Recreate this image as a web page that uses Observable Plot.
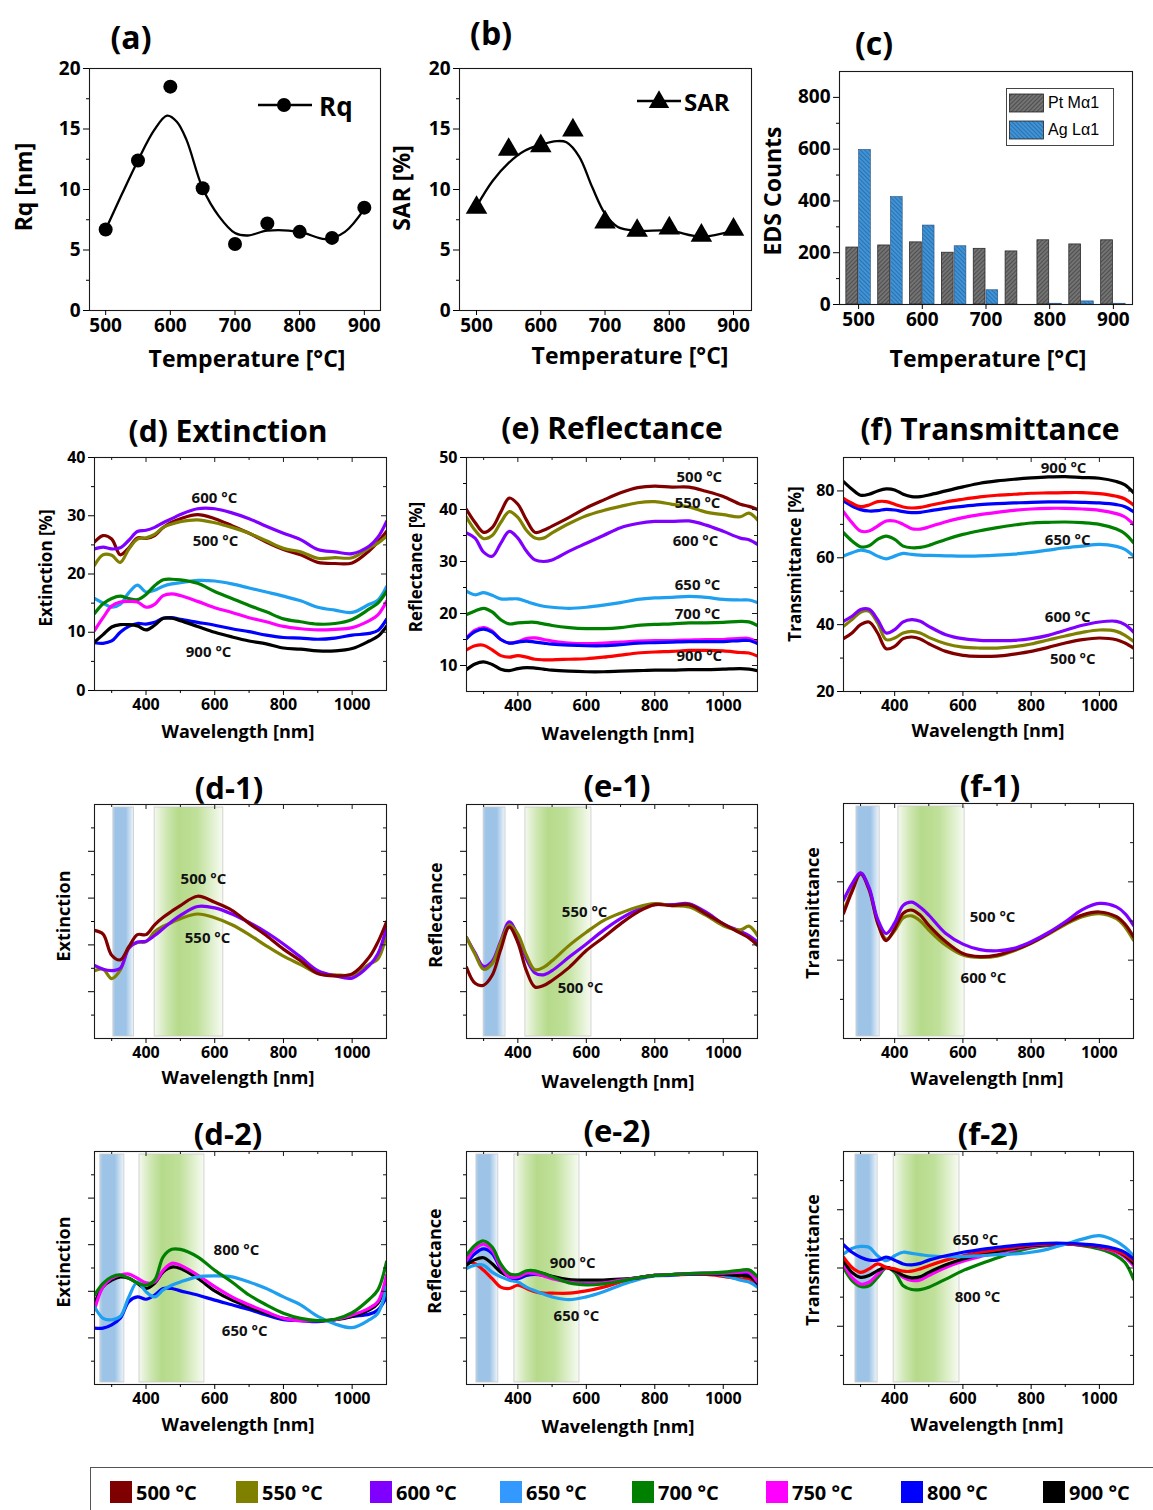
<!DOCTYPE html>
<html><head><meta charset="utf-8">
<script src="https://cdn.jsdelivr.net/npm/d3@7"></script>
<script src="https://cdn.jsdelivr.net/npm/@observablehq/plot@0.6"></script>
<style>
body{margin:0;background:#fff;}
#root{position:relative;width:1153px;height:1510px;overflow:hidden;background:#fff;font-family:"Open Sans",Lato,"DejaVu Sans",sans-serif;color:#000;}
.lbl{position:absolute;font-weight:700;white-space:nowrap;transform:translate(-50%,-50%);line-height:1;}
.rot{transform:translate(-50%,-50%) rotate(-90deg);}
</style></head><body><div id="root"></div>
<script>
// ---------------- DATA ----------------
const temps = [500, 550, 600, 650, 700, 750, 800, 850, 900];
const rqValues = [6.7, 12.4, 18.5, 10.1, 5.5, 7.2, 6.5, 6.0, 8.5];
const rqFitT = [500, 525, 550, 575, 595, 610, 625, 650, 675, 700, 720, 750, 800, 840, 870, 900];
const rqFit  = [6.7, 9.6, 12.4, 14.9, 16.1, 15.6, 14.1, 10.1, 7.8, 6.4, 6.2, 6.6, 6.5, 5.9, 6.5, 8.4];
const sarValues = [8.5, 13.3, 13.6, 14.9, 7.3, 6.6, 6.8, 6.2, 6.7];
const sarFitT = [500, 525, 550, 575, 600, 625, 640, 660, 680, 700, 720, 750, 800, 850, 900];
const sarFit  = [8.6, 10.7, 12.2, 13.2, 13.7, 14.0, 13.9, 12.7, 10.2, 8.0, 6.9, 6.6, 6.6, 6.1, 6.6];
const ptCounts = [220, 228, 240, 200, 215, 205, 248, 232, 248];
const agCounts = [597, 415, 305, 225, 55, 0, 3, 12, 3];

const WL = [250,275,300,325,350,375,400,425,450,475,500,550,600,650,700,750,800,850,900,950,1000,1050,1075,1100];

const extSeries = ["500 °C","550 °C","600 °C","650 °C","700 °C","750 °C","800 °C","900 °C"];
const extValues = [
 [25.5,26.6,26.0,23.3,24.5,26.2,26.1,26.6,28.0,28.9,29.5,30.2,29.5,28.3,27.0,25.5,24.2,23.3,22.0,21.8,21.9,24.0,25.5,27.3],
 [21.5,23.3,23.2,22.0,24.3,26.0,26.2,26.8,28.0,28.6,29.0,29.3,28.8,28.0,27.0,25.7,24.4,23.8,22.7,22.8,22.8,24.5,25.3,26.5],
 [24.3,24.6,24.3,24.5,25.8,27.3,27.5,28.0,28.8,29.5,30.2,31.2,31.2,30.5,29.5,28.2,27.0,25.9,24.2,23.8,23.5,24.8,26.3,29.0],
 [15.8,15.0,14.3,14.8,16.8,18.1,16.9,17.2,17.9,18.3,18.5,18.9,18.8,18.3,17.6,16.9,16.2,15.4,14.3,13.8,13.4,14.8,15.5,17.8],
 [13.2,14.9,15.8,16.2,15.8,15.6,16.5,18.0,19.0,19.1,19.0,18.4,17.0,15.8,14.6,13.5,12.3,11.8,11.4,11.5,12.2,14.0,15.0,17.0],
 [10.3,12.5,14.5,15.2,15.3,15.2,14.3,14.8,16.3,16.6,16.3,15.3,14.2,13.4,12.5,11.8,11.0,10.6,10.4,10.5,10.8,12.0,13.0,15.3],
 [8.2,8.1,8.5,10.0,11.0,11.5,11.4,11.7,12.4,12.5,12.2,11.7,11.2,10.6,10.1,9.5,9.1,9.0,8.8,9.0,9.5,9.8,10.3,12.2],
 [8.3,9.6,10.9,11.3,11.3,11.1,10.4,11.2,12.4,12.4,12.0,11.0,10.0,9.2,8.5,8.0,7.3,7.1,6.8,6.8,7.2,8.5,9.3,11.0]
];
const refSeries = ["500 °C","550 °C","600 °C","650 °C","700 °C","750 °C","800 °C","850 °C","900 °C"];
const refValues = [
 [40.0,37.5,35.6,36.5,39.5,42.2,41.0,38.0,35.6,36.0,36.8,38.5,40.3,41.8,43.2,44.2,44.5,44.3,44.3,43.5,42.5,41.0,40.6,40.0],
 [38.5,36.0,34.4,35.0,37.5,39.6,38.5,36.0,34.5,34.5,35.5,37.3,38.8,39.8,40.6,41.3,41.5,41.0,40.5,39.5,39.0,38.6,39.3,38.0],
 [35.5,34.5,31.8,31.0,33.5,35.8,34.5,32.0,30.3,30.0,30.3,32.0,33.5,35.0,36.5,37.3,37.7,37.7,37.8,37.0,35.8,34.5,34.2,33.3],
 [24.3,23.6,24.0,23.5,22.8,22.8,22.8,22.3,21.8,21.4,21.2,21.0,21.2,21.6,22.1,22.7,23.0,23.1,23.3,23.1,22.7,22.6,22.6,22.1],
 [19.8,20.5,21.0,20.3,18.8,18.0,18.2,18.3,18.3,18.0,17.7,17.3,17.1,17.1,17.3,17.7,17.9,18.0,18.2,18.2,18.3,18.5,18.4,17.7],
 [15.3,16.8,17.3,16.6,15.0,14.3,14.6,15.2,15.3,15.0,14.7,14.3,14.2,14.3,14.5,14.7,14.8,14.8,14.9,15.0,15.0,15.2,15.2,14.5],
 [15.2,16.5,17.0,16.4,15.0,14.3,14.5,14.7,14.5,14.3,14.1,13.9,13.8,13.8,14.0,14.3,14.4,14.5,14.6,14.6,14.6,14.8,14.8,14.2],
 [13.0,13.8,13.9,13.0,11.9,11.6,11.9,11.6,11.2,11.1,11.1,11.2,11.3,11.6,12.0,12.4,12.6,12.7,12.9,12.9,12.8,12.5,12.4,11.8],
 [9.2,10.3,10.7,10.2,9.3,9.0,9.4,9.6,9.5,9.3,9.1,8.9,8.8,8.8,8.9,9.0,9.1,9.1,9.2,9.2,9.3,9.4,9.3,9.0]
];
const traSeries = ["500 °C","550 °C","600 °C","650 °C","700 °C","750 °C","800 °C","850 °C","900 °C"];
const traValues = [
 [35.8,37.5,40.0,40.8,37.5,32.8,33.5,35.8,36.3,35.7,34.3,32.0,30.8,30.5,30.6,31.2,32.0,33.2,34.5,35.5,36.0,35.5,34.5,33.0],
 [39.5,41.5,43.7,44.0,40.5,35.5,36.0,37.5,38.0,37.5,36.2,34.3,33.3,33.0,33.0,33.4,34.2,35.4,36.6,37.7,38.4,38.0,36.8,35.0],
 [41.0,42.5,44.5,44.6,41.5,37.5,38.5,40.8,41.5,41.0,39.5,37.0,35.8,35.3,35.2,35.3,35.8,36.8,38.3,39.8,40.8,41.0,40.0,37.8],
 [60.5,61.5,62.3,61.8,60.5,59.7,60.5,61.3,61.0,60.8,60.7,60.6,60.5,60.6,60.8,61.1,61.6,62.3,63.0,63.5,64.0,63.4,62.5,60.5],
 [67.5,65.0,63.3,63.6,65.5,66.5,65.5,63.5,63.0,63.1,63.7,65.5,67.0,68.1,69.0,69.8,70.4,70.6,70.7,70.5,70.0,68.6,67.2,64.5],
 [73.8,70.5,68.0,68.0,69.5,71.0,71.0,70.0,68.7,68.6,69.2,70.8,72.0,72.9,73.6,74.2,74.6,74.8,74.8,74.6,74.2,73.2,72.2,70.0],
 [77.0,75.5,74.4,74.0,74.1,74.5,74.3,73.8,73.5,73.6,74.0,74.8,75.4,75.9,76.2,76.4,76.6,76.7,76.7,76.6,76.4,75.9,75.3,73.8],
 [77.8,76.3,75.3,75.8,76.8,76.8,76.0,75.2,74.9,75.1,75.6,76.7,77.5,78.2,78.7,79.0,79.3,79.4,79.5,79.5,79.2,78.4,77.6,75.8],
 [82.8,80.5,78.7,79.0,80.0,80.6,80.3,79.0,78.3,78.3,78.8,80.0,81.2,82.3,83.0,83.5,83.9,84.2,84.3,84.0,83.8,82.8,81.8,79.5]
];
const ext1Series = ["550 °C","600 °C","500 °C"];
const ext1Values = [
 [14.5,14.8,12.8,14.6,19.5,20.5,20.7,22.8,24.0,24.8,25.6,26.6,25.8,24.3,22.2,19.8,17.6,15.8,13.9,13.6,13.6,15.9,17.0,22.4],
 [15.6,14.8,14.5,15.0,19.3,20.6,20.8,22.0,23.5,25.0,26.3,28.2,27.9,26.6,24.8,22.7,20.2,17.4,14.5,13.4,12.9,15.6,18.1,23.8],
 [23.1,22.3,17.8,16.8,19.6,22.2,22.2,24.3,25.9,27.2,28.4,30.4,29.1,27.4,24.6,22.0,19.1,16.6,13.9,13.4,13.8,17.4,20.6,24.9]
];
const ref1Series = ["600 °C","550 °C","500 °C"];
const ref1Values = [
 [21.6,18.3,15.4,16.5,20.8,24.9,22.0,17.0,14.0,13.6,14.5,17.4,20.2,23.1,25.6,27.5,28.6,28.6,28.8,27.0,24.5,22.9,22.0,20.6],
 [21.6,18.0,14.8,16.0,20.5,24.3,22.3,17.8,14.7,15.2,16.6,19.9,22.7,25.2,26.8,28.1,28.8,28.4,28.1,26.3,24.1,23.2,24.0,22.0],
 [15.2,11.8,11.4,13.5,19.0,23.8,20.5,14.5,11.0,11.3,12.4,15.2,18.8,21.6,24.5,27.0,28.6,28.4,28.6,26.6,24.5,22.5,21.5,19.9]
];
const tra1Series = ["550 °C","500 °C","600 °C"];
const tra1Values = [
 [32.3,38.0,42.2,38.2,29.8,25.4,27.5,30.8,31.3,30.0,27.7,23.8,21.3,20.7,21.0,22.4,24.3,26.6,29.1,31.1,31.9,30.6,28.5,25.1],
 [31.9,37.5,42.0,38.0,29.5,25.0,28.0,32.0,32.8,31.5,28.9,24.7,21.7,20.9,21.3,22.6,24.4,26.8,29.4,31.5,32.3,31.1,29.2,26.0],
 [35.3,39.5,42.3,38.5,30.5,26.8,29.5,34.0,34.8,33.5,31.5,26.8,24.1,22.7,22.4,23.0,24.7,27.0,29.8,32.9,34.5,33.6,31.9,28.9]
];
const ext2Series = ["800 °C","900 °C","750 °C","650 °C","700 °C"];
const ext2Values = [
 [12.1,12.1,12.8,14.2,17.8,18.8,18.3,19.2,20.6,20.6,20.1,19.2,18.1,17.1,16.1,14.9,13.9,13.7,13.5,13.9,14.6,15.1,16.0,18.8],
 [17.4,21.0,22.4,23.1,22.8,21.7,20.6,21.7,24.2,25.2,24.9,22.8,20.1,18.1,16.6,15.3,14.2,13.9,13.7,13.9,14.6,16.0,17.4,22.4],
 [16.0,21.0,22.8,23.5,23.7,22.8,21.8,22.0,24.5,26.0,25.6,23.5,21.0,18.8,17.1,15.6,14.2,13.7,13.7,13.9,14.9,16.4,17.8,23.5],
 [16.7,14.2,13.9,14.6,18.8,22.0,19.9,18.8,20.3,21.3,22.0,23.1,23.3,23.1,22.0,20.6,18.8,17.1,14.6,13.0,12.2,13.9,15.3,21.0],
 [19.2,21.7,23.1,23.5,22.8,21.8,21.3,22.4,27.4,29.0,29.0,27.4,24.5,22.0,19.2,17.1,15.3,14.2,13.7,14.0,15.4,18.3,20.3,26.3]
];
const ref2Series = ["850 °C","650 °C","800 °C","900 °C","750 °C","700 °C"];
const ref2Values = [
 [26.4,25.9,24.5,22.7,20.9,20.6,21.3,20.6,19.9,19.6,19.6,19.6,20.1,20.9,22.0,22.9,23.4,23.5,23.6,23.6,23.2,22.7,22.7,21.3],
 [24.9,25.6,25.6,24.1,23.1,22.4,22.0,20.9,20.1,19.4,18.8,18.2,18.8,19.9,21.3,22.5,23.3,23.4,23.8,23.9,23.4,22.4,22.0,20.9],
 [25.9,28.1,29.1,28.1,24.9,23.1,22.7,23.4,23.6,23.4,22.9,22.0,21.6,21.8,22.4,22.9,23.4,23.5,23.7,23.8,23.8,23.6,23.6,21.6],
 [25.6,26.8,27.2,25.9,24.1,23.2,23.1,23.8,24.1,23.8,23.2,22.5,22.4,22.4,22.6,22.9,23.4,23.6,23.8,23.8,23.6,23.4,23.2,21.8],
 [26.6,29.1,30.1,28.8,25.2,23.1,23.1,23.9,23.8,23.3,22.7,22.0,21.6,21.8,22.4,22.9,23.4,23.6,23.8,23.9,23.9,24.1,24.1,22.0],
 [27.7,29.9,30.8,29.5,25.9,23.8,23.6,24.4,24.4,23.8,23.1,21.8,21.4,21.6,22.2,22.9,23.4,23.6,23.8,23.9,24.1,24.5,24.6,23.1]
];
const tra2Series = ["700 °C","750 °C","900 °C","850 °C","650 °C","800 °C"];
const tra2Values = [
 [40.2,35.7,33.7,33.9,36.8,40.0,38.5,33.9,32.6,32.6,33.4,36.2,39.1,41.4,43.4,45.4,46.9,47.7,48.2,47.7,46.5,44.2,41.9,36.2],
 [41.4,36.8,34.5,35.1,37.9,40.2,39.1,36.8,35.7,35.9,37.4,40.2,42.3,43.9,45.1,46.3,47.3,47.9,48.2,47.9,47.1,45.4,43.7,40.8],
 [42.5,38.5,36.8,37.4,39.1,40.2,39.1,37.4,36.6,37.0,38.5,41.1,43.1,44.6,45.7,46.7,47.7,48.0,48.2,48.0,47.3,45.9,44.2,41.6],
 [43.7,40.2,38.5,39.7,41.4,40.2,39.7,38.9,38.9,39.7,40.8,42.7,44.2,45.4,46.3,47.1,47.9,48.2,48.2,48.0,47.4,45.9,44.6,42.5],
 [44.8,46.7,47.4,47.1,44.2,42.5,44.2,45.4,45.0,44.6,44.2,43.9,43.9,44.2,44.6,44.8,45.4,46.5,48.2,49.9,51.1,49.1,47.1,44.2],
 [48.0,45.4,43.7,42.7,42.7,43.7,42.7,41.4,41.1,41.6,42.7,44.2,45.4,46.3,47.1,47.7,48.2,48.5,48.5,48.2,47.7,46.5,45.4,43.1]
];
// highlighted wavelength bands [from, to] in nm
const blueBandD1 = [305, 365], greenBandD1 = [425, 625];
const blueBandE1 = [300, 364], greenBandE1 = [422, 615];
const blueBandF1 = [288, 356], greenBandF1 = [411, 605];
const blueBandD2 = [267, 337], greenBandD2 = [381, 570];
const blueBandE2 = [279, 343], greenBandE2 = [390, 580];
const blueBandF2 = [285, 350], greenBandF2 = [397, 590];
// in-plot annotations
const notesD  = [{t:"600 °C",x:599,y:33.1},{t:"500 °C",x:602,y:25.6},{t:"900 °C",x:582,y:6.5}];
const notesE  = [{t:"500 °C",x:930,y:46.2},{t:"550 °C",x:925,y:41.2},{t:"600 °C",x:919,y:34.0},{t:"650 °C",x:925,y:25.4},{t:"700 °C",x:925,y:19.8},{t:"900 °C",x:930,y:11.7}];
const notesF  = [{t:"900 °C",x:895,y:86.7},{t:"650 °C",x:907,y:65.2},{t:"600 °C",x:907,y:42.1},{t:"500 °C",x:922,y:29.6}];
const notesD1 = [{t:"500 °C",x:567,y:34.0},{t:"550 °C",x:579,y:21.4}];
const notesE1 = [{t:"550 °C",x:595,y:26.9},{t:"500 °C",x:583,y:10.7}];
const notesF1 = [{t:"500 °C",x:687,y:30.9},{t:"600 °C",x:660,y:15.3}];
const notesD2 = [{t:"800 °C",x:663,y:28.8},{t:"650 °C",x:687,y:11.4}];
const notesE2 = [{t:"900 °C",x:560,y:26.0},{t:"650 °C",x:571,y:14.6}];
const notesF2 = [{t:"650 °C",x:637,y:49.5},{t:"800 °C",x:643,y:29.9}];

const legendTemps = ["500 °C","550 °C","600 °C","650 °C","700 °C","750 °C","800 °C","900 °C"];
const COL = {"500 °C":"#800000","550 °C":"#808000","600 °C":"#8000ff","650 °C":"#1e9ff0","700 °C":"#008000","750 °C":"#ff00ff","800 °C":"#0000ff","850 °C":"#ff0000","900 °C":"#000000"};
const LEGCOL = {"500 °C":"#7f0000","550 °C":"#808000","600 °C":"#8000ff","650 °C":"#3399ff","700 °C":"#008000","750 °C":"#ff00ff","800 °C":"#0000ff","900 °C":"#000000"};

// ---------------- RENDER ----------------
const FONT = '"Open Sans", Lato, "DejaVu Sans", sans-serif';
const root = document.getElementById("root");

const defs = document.createElementNS("http://www.w3.org/2000/svg", "svg");
defs.setAttribute("width", 0); defs.setAttribute("height", 0);
defs.style.position = "absolute";
defs.innerHTML = `<defs>
<pattern id="hatchPt" patternUnits="userSpaceOnUse" width="3" height="3" patternTransform="rotate(45)">
<rect width="3" height="3" fill="#737373"/><line x1="0" y1="0" x2="0" y2="3" stroke="#2e2e2e" stroke-width="1.1"/></pattern>
<pattern id="hatchAg" patternUnits="userSpaceOnUse" width="3" height="3" patternTransform="rotate(-45)">
<rect width="3" height="3" fill="#3f93d8"/><line x1="0" y1="0" x2="0" y2="3" stroke="#1d4f7e" stroke-width="1"/></pattern>
<linearGradient id="gBlue" x1="0" x2="1" y1="0" y2="0">
<stop offset="0" stop-color="#b9d5ee"/><stop offset="0.12" stop-color="#9dc3e6"/><stop offset="0.62" stop-color="#9dc3e6"/><stop offset="1" stop-color="#eef5fb"/></linearGradient>
<linearGradient id="gGreen" x1="0" x2="1" y1="0" y2="0">
<stop offset="0" stop-color="#f4f9ee"/><stop offset="0.18" stop-color="#cfe7b3"/><stop offset="0.35" stop-color="#b6da8b"/><stop offset="0.62" stop-color="#bfe099"/><stop offset="1" stop-color="#f7fbf2"/></linearGradient>
</defs>`;
root.appendChild(defs);

function label(text, cx, cy, size, rot = false, weight = 700) {
  const d = document.createElement("div");
  d.className = "lbl" + (rot ? " rot" : "");
  d.textContent = text;
  d.style.left = cx + "px"; d.style.top = cy + "px";
  d.style.fontSize = size + "px"; d.style.fontWeight = weight;
  root.appendChild(d);
  return d;
}

function rows(series, values) {
  return series.flatMap((s, i) => values[i].map((v, j) => ({s, w: WL[j], v, c: COL[s]})));
}

const fmt = d => String(d);
function panel(cfg) {
  const {L, T, R, B} = cfg.frame;
  const fw = R - L, fh = B - T;
  const ML = 64, MR = 14, MT = 14, MB = 40;
  const tf = cfg.tickFont || 16;
  const marks = [];
  if (cfg.bands) {
    marks.push(Plot.rect([cfg.bands[0]], {x1: d => d[0], x2: d => d[1], fill: "url(#gBlue)", stroke: "#c9c9c9", strokeWidth: 0.8, insetTop: 3, insetBottom: 2}));
    marks.push(Plot.rect([cfg.bands[1]], {x1: d => d[0], x2: d => d[1], fill: "url(#gGreen)", stroke: "#c9c9c9", strokeWidth: 0.8, insetTop: 3, insetBottom: 2}));
  }
  if (cfg.marks) marks.push(...cfg.marks);
  marks.push(Plot.frame({stroke: "#1a1a1a", strokeWidth: 1.1}));
  marks.push(Plot.axisX({ticks: cfg.xMajor, tickSize: 5, tickPadding: 3, label: null, fontSize: tf, fontWeight: "bold", tickFormat: fmt}));
  if (cfg.xMinor) marks.push(Plot.axisX({ticks: cfg.xMinor, tickSize: 3, tickFormat: () => "", label: null}));
  marks.push(Plot.axisY({ticks: cfg.yMajor, tickSize: 6, tickPadding: 3, label: null, fontSize: tf, fontWeight: "bold", tickFormat: cfg.yLabels === false ? () => "" : fmt}));
  if (cfg.yMinor) marks.push(Plot.axisY({ticks: cfg.yMinor, tickSize: 3, tickFormat: () => "", label: null}));
  if (cfg.inward) {
    marks.push(Plot.tickX(cfg.xMajor, {x: d => d, insetBottom: fh - 5, stroke: "#1a1a1a"}));
    if (cfg.xMinor) marks.push(Plot.tickX(cfg.xMinor, {x: d => d, insetBottom: fh - 3, stroke: "#1a1a1a"}));
    marks.push(Plot.tickY(cfg.yMajor, {y: d => d, insetLeft: fw - 5, stroke: "#1a1a1a"}));
    if (cfg.yMinor) marks.push(Plot.tickY(cfg.yMinor, {y: d => d, insetLeft: fw - 3, stroke: "#1a1a1a"}));
  }
  if (cfg.notes) marks.push(Plot.text(cfg.notes, {x: "x", y: "y", text: "t", fontSize: 15, fontWeight: "bold", fill: "#111"}));
  const svg = Plot.plot({
    width: fw + ML + MR, height: fh + MT + MB,
    marginLeft: ML, marginRight: MR, marginTop: MT, marginBottom: MB,
    x: {domain: cfg.x}, y: {domain: cfg.y},
    color: {type: "identity"},
    style: {fontFamily: FONT, fontSize: tf + "px", fontWeight: "bold", color: "#000", background: "transparent", overflow: "visible"},
    marks
  });
  svg.style.position = "absolute";
  svg.style.left = (L - ML) + "px";
  svg.style.top = (T - MT) + "px";
  root.appendChild(svg);
}

// ----- (a) -----
const rqRows = temps.map((t, i) => ({t, v: rqValues[i]}));
const rqFitRows = rqFitT.map((t, i) => ({t, v: rqFit[i]}));
panel({frame: {L: 89, T: 68, R: 380, B: 310}, x: [475, 925], y: [0, 20], tickFont: 19,
  xMajor: [500, 600, 700, 800, 900], yMajor: [0, 5, 10, 15, 20], yMinor: [2.5, 7.5, 12.5, 17.5],
  marks: [
    Plot.line(rqFitRows, {x: "t", y: "v", curve: "catmull-rom", stroke: "#000", strokeWidth: 2.3}),
    Plot.dot(rqRows, {x: "t", y: "v", r: 7, fill: "#000"})
  ]});
// ----- (b) -----
const sarRows = temps.map((t, i) => ({t, v: sarValues[i]}));
const sarFitRows = sarFitT.map((t, i) => ({t, v: sarFit[i]}));
panel({frame: {L: 459, T: 68, R: 751, B: 310}, x: [473.5, 928], y: [0, 20], tickFont: 19,
  xMajor: [500, 600, 700, 800, 900], yMajor: [0, 5, 10, 15, 20], yMinor: [2.5, 7.5, 12.5, 17.5],
  marks: [
    Plot.line(sarFitRows, {x: "t", y: "v", curve: "catmull-rom", stroke: "#000", strokeWidth: 2.3}),
    Plot.dot(sarRows, {x: "t", y: "v", r: 8, symbol: "triangle", fill: "#000"})
  ]});
// ----- (c) -----
const ptRows = temps.map((t, i) => ({t, v: ptCounts[i]}));
const agRows = temps.map((t, i) => ({t, v: agCounts[i]}));
panel({frame: {L: 839, T: 71, R: 1132, B: 304}, x: [470, 930], y: [0, 900], tickFont: 19,
  xMajor: [500, 600, 700, 800, 900], yMajor: [0, 200, 400, 600, 800], yMinor: [100, 300, 500, 700],
  marks: [
    Plot.rect(ptRows, {x1: d => d.t - 20, x2: d => d.t, y1: () => 0, y2: "v", fill: "url(#hatchPt)", stroke: "#2a2a2a", strokeWidth: 0.8, insetLeft: 0.5, insetRight: 0.5}),
    Plot.rect(agRows, {x1: d => d.t, x2: d => d.t + 20, y1: () => 0, y2: "v", fill: "url(#hatchAg)", stroke: "#2a4f75", strokeWidth: 0.6, insetLeft: 0.5, insetRight: 0.5})
  ]});

// ----- spectra -----
const specX = {xMajor: [400, 600, 800, 1000], xMinor: [300, 500, 700, 900], x: [250, 1100], inward: true, tickFont: 16};
function spec(series, values) {
  return Plot.line(rows(series, values), {x: "w", y: "v", z: "s", stroke: "c", strokeWidth: 3.2, curve: "catmull-rom", clip: true});
}
panel({...specX, frame: {L: 94, T: 457, R: 386, B: 690}, y: [0, 40], yMajor: [0, 10, 20, 30, 40], yMinor: [5, 15, 25, 35],
  marks: [spec(extSeries, extValues)], notes: notesD});
panel({...specX, frame: {L: 466, T: 457, R: 757, B: 691}, y: [5, 50], yMajor: [10, 20, 30, 40, 50], yMinor: [15, 25, 35, 45],
  marks: [spec(refSeries, refValues)], notes: notesE});
panel({...specX, frame: {L: 843, T: 457, R: 1133, B: 691}, y: [20, 90], yMajor: [20, 40, 60, 80], yMinor: [30, 50, 70],
  marks: [spec(traSeries, traValues)], notes: notesF});

const sub = {...specX, yLabels: false};
panel({...sub, frame: {L: 94, T: 804, R: 386, B: 1038}, y: [0, 50], yMajor: [10, 20, 30, 40], yMinor: [5, 15, 25, 35, 45],
  bands: [blueBandD1, greenBandD1], marks: [spec(ext1Series, ext1Values)], notes: notesD1});
panel({...sub, frame: {L: 466, T: 804, R: 757, B: 1038}, y: [0, 50], yMajor: [10, 20, 30, 40], yMinor: [5, 15, 25, 35, 45],
  bands: [blueBandE1, greenBandE1], marks: [spec(ref1Series, ref1Values)], notes: notesE1});
panel({...sub, frame: {L: 843, T: 803, R: 1133, B: 1038}, y: [0, 60], yMajor: [20, 40], yMinor: [10, 30, 50],
  bands: [blueBandF1, greenBandF1], marks: [spec(tra1Series, tra1Values)], notes: notesF1});
panel({...sub, frame: {L: 94, T: 1151, R: 386, B: 1384}, y: [0, 50], yMajor: [10, 20, 30, 40], yMinor: [5, 15, 25, 35, 45],
  bands: [blueBandD2, greenBandD2], marks: [spec(ext2Series, ext2Values)], notes: notesD2});
panel({...sub, frame: {L: 466, T: 1151, R: 757, B: 1384}, y: [0, 50], yMajor: [10, 20, 30, 40], yMinor: [5, 15, 25, 35, 45],
  bands: [blueBandE2, greenBandE2], marks: [spec(ref2Series, ref2Values)], notes: notesE2});
panel({...sub, frame: {L: 843, T: 1151, R: 1133, B: 1384}, y: [0, 80], yMajor: [20, 40, 60], yMinor: [10, 30, 50, 70],
  bands: [blueBandF2, greenBandF2], marks: [spec(tra2Series, tra2Values)], notes: notesF2});

// ----- titles & axis labels -----
label("(a)", 131, 37, 32); label("(b)", 491, 33, 32); label("(c)", 874, 43, 32);
label("Rq [nm]", 23, 187, 23, true); label("SAR [%]", 401, 188, 23, true); label("EDS Counts", 772, 191, 23, true);
label("Temperature [°C]", 247, 358, 23); label("Temperature [°C]", 630, 355, 23); label("Temperature [°C]", 988, 358, 23);

label("(d) Extinction", 228, 431, 30); label("(e) Reflectance", 612, 428, 30); label("(f) Transmittance", 990, 429, 30);
label("Extinction [%]", 45, 568, 17, true); label("Reflectance [%]", 415, 567, 17, true); label("Transmittance [%]", 794, 564, 17, true);
label("Wavelength [nm]", 238, 731, 18); label("Wavelength [nm]", 618, 733, 18); label("Wavelength [nm]", 988, 730, 18);

label("(d-1)", 229, 787, 31); label("(e-1)", 617, 785, 31); label("(f-1)", 990, 785, 31);
label("Extinction", 63, 916, 18, true); label("Reflectance", 435, 915, 18, true); label("Transmittance", 812, 913, 18, true);
label("Wavelength [nm]", 238, 1077, 18); label("Wavelength [nm]", 618, 1081, 18); label("Wavelength [nm]", 987, 1078, 18);

label("(d-2)", 228, 1133, 31); label("(e-2)", 617, 1130, 31); label("(f-2)", 988, 1133, 31);
label("Extinction", 63, 1262, 18, true); label("Reflectance", 434, 1261, 18, true); label("Transmittance", 812, 1260, 18, true);
label("Wavelength [nm]", 238, 1424, 18); label("Wavelength [nm]", 618, 1426, 18); label("Wavelength [nm]", 987, 1424, 18);

// ----- (a)/(b) legends -----
function miniLegend(x, y, symbol, text, size) {
  const s = document.createElementNS("http://www.w3.org/2000/svg", "svg");
  s.setAttribute("width", 60); s.setAttribute("height", 30);
  s.style.position = "absolute"; s.style.left = x + "px"; s.style.top = (y - 15) + "px";
  const mark = symbol === "dot"
    ? `<circle cx="28" cy="15" r="7" fill="#000"/>`
    : `<path d="${d3.symbol(d3.symbolTriangle, 180)()}" transform="translate(24,16)" fill="#000"/>`;
  s.innerHTML = `<line x1="2" x2="${symbol === "dot" ? 56 : 46}" y1="15" y2="15" stroke="#000" stroke-width="2.5"/>` + mark;
  root.appendChild(s);
  const t = document.createElement("div");
  t.className = "lbl"; t.textContent = text; t.style.transform = "translate(0,-50%)";
  t.style.left = (x + (symbol === "dot" ? 63 : 49)) + "px"; t.style.top = (y + 1) + "px"; t.style.fontSize = size + "px";
  root.appendChild(t);
}
miniLegend(256, 105, "dot", "Rq", 26);
miniLegend(635, 101, "tri", "SAR", 24);

// ----- (c) legend -----
const cl = document.createElement("div");
cl.style.cssText = "position:absolute;left:1006px;top:88px;width:106px;height:56px;border:1px solid #444;background:#fff;";
cl.innerHTML = `<svg width="40" height="56" style="position:absolute;left:1px;top:0">
<rect x="1.5" y="5" width="34" height="18" fill="url(#hatchPt)" stroke="#222" stroke-width="0.8"/>
<rect x="1.5" y="32" width="34" height="18" fill="url(#hatchAg)" stroke="#222" stroke-width="0.8"/></svg>
<div style="position:absolute;left:41px;top:5px;font-size:16px;font-weight:400;font-family:'Liberation Sans',sans-serif;">Pt M&alpha;1</div>
<div style="position:absolute;left:41px;top:32px;font-size:16px;font-weight:400;font-family:'Liberation Sans',sans-serif;">Ag L&alpha;1</div>`;
root.appendChild(cl);

// ----- bottom legend -----
const lg = document.createElement("div");
lg.style.cssText = "position:absolute;left:90px;top:1467px;width:1080px;height:60px;border:1px solid #555;background:#fff;";
root.appendChild(lg);
const swX = [110, 236, 370, 500, 632, 766, 901, 1043];
legendTemps.forEach((s, i) => {
  const sw = document.createElement("div");
  sw.style.cssText = `position:absolute;left:${swX[i]}px;top:1481px;width:22px;height:22px;background:${LEGCOL[s]};`;
  root.appendChild(sw);
  const t = document.createElement("div");
  t.className = "lbl"; t.textContent = s; t.style.transform = "translate(0,-50%)";
  t.style.left = (swX[i] + 26) + "px"; t.style.top = "1493px"; t.style.fontSize = "20px";
  root.appendChild(t);
});
</script></body></html>
